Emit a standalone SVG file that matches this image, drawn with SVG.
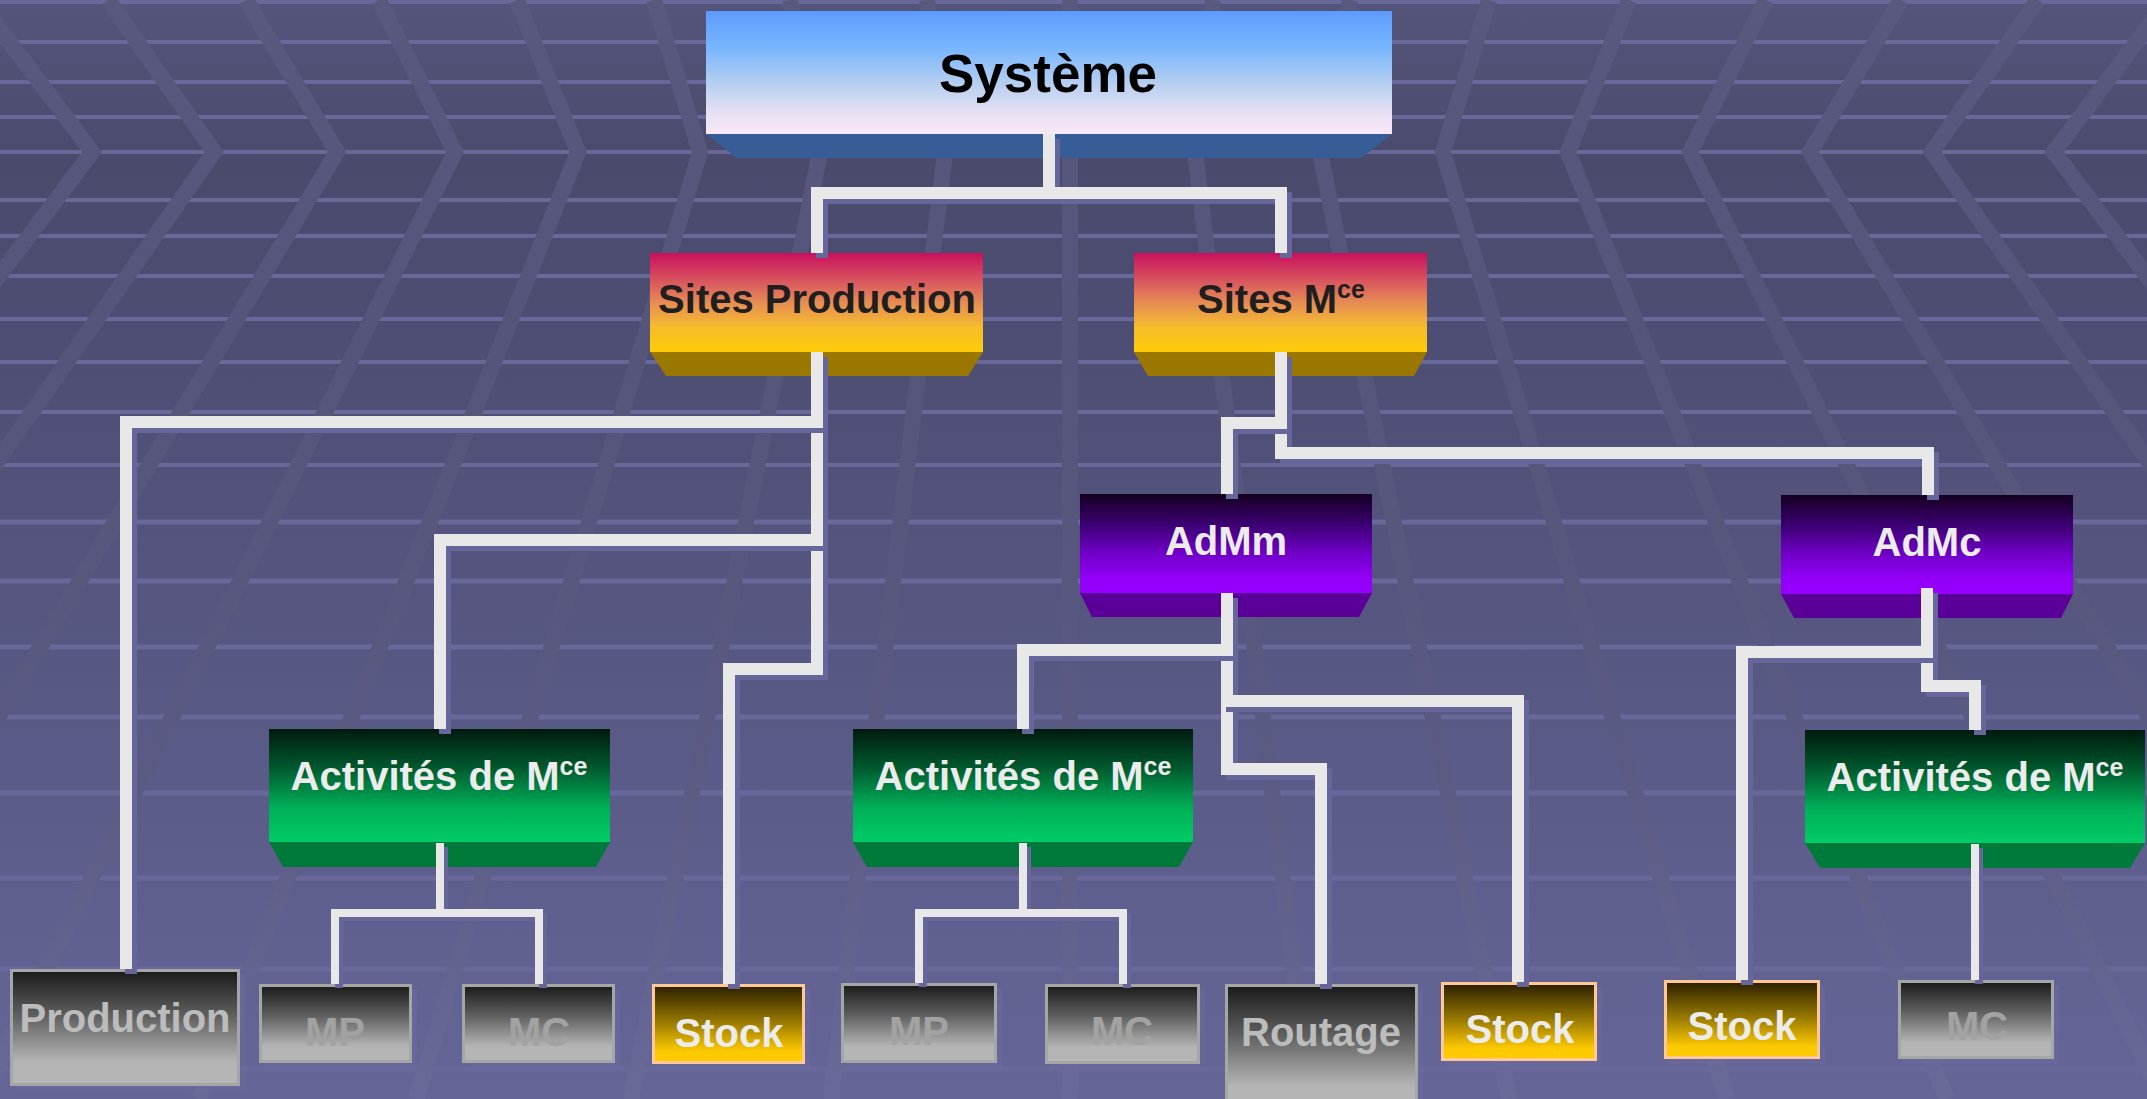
<svg xmlns="http://www.w3.org/2000/svg" width="2147" height="1099" viewBox="0 0 2147 1099">
  <defs>
    <linearGradient id="gBg" x1="0" y1="0" x2="0" y2="1099" gradientUnits="userSpaceOnUse">
      <stop offset="0" stop-color="#55557c"/>
      <stop offset="0.15" stop-color="#4a4a6d"/>
      <stop offset="0.4" stop-color="#505078"/>
      <stop offset="0.7" stop-color="#5b5b89"/>
      <stop offset="1" stop-color="#656598"/>
    </linearGradient>
    <linearGradient id="gBand" x1="0" y1="0" x2="0" y2="1099" gradientUnits="userSpaceOnUse">
      <stop offset="0" stop-color="#59597f"/>
      <stop offset="0.3" stop-color="#55557b"/>
      <stop offset="0.7" stop-color="#5a5a82"/>
      <stop offset="1" stop-color="#6a6a9a"/>
    </linearGradient>
    <linearGradient id="gSys" x1="0" y1="0" x2="0" y2="1">
      <stop offset="0" stop-color="#5c9bff"/>
      <stop offset="0.3" stop-color="#78b6fd"/>
      <stop offset="0.6" stop-color="#b8d0f0"/>
      <stop offset="0.85" stop-color="#eae2f4"/>
      <stop offset="1" stop-color="#f8e8f6"/>
    </linearGradient>
    <linearGradient id="gSites" x1="0" y1="0" x2="0" y2="1">
      <stop offset="0" stop-color="#c8105f"/>
      <stop offset="0.3" stop-color="#da5a5e"/>
      <stop offset="0.5" stop-color="#e68c54"/>
      <stop offset="0.75" stop-color="#f6bc2c"/>
      <stop offset="1" stop-color="#ffcc06"/>
    </linearGradient>
    <linearGradient id="gPurple" x1="0" y1="0" x2="0" y2="1">
      <stop offset="0" stop-color="#140020"/>
      <stop offset="0.3" stop-color="#3a0070"/>
      <stop offset="0.6" stop-color="#7000c8"/>
      <stop offset="0.85" stop-color="#9300f8"/>
      <stop offset="1" stop-color="#9600ff"/>
    </linearGradient>
    <linearGradient id="gGreen" x1="0" y1="0" x2="0" y2="1">
      <stop offset="0" stop-color="#001a0e"/>
      <stop offset="0.35" stop-color="#005a2e"/>
      <stop offset="0.7" stop-color="#00b058"/>
      <stop offset="1" stop-color="#00cc66"/>
    </linearGradient>
    <linearGradient id="gGrey" x1="0" y1="0" x2="0" y2="1">
      <stop offset="0" stop-color="#1a1a1a"/>
      <stop offset="0.4" stop-color="#606060"/>
      <stop offset="0.8" stop-color="#b4b4b4"/>
      <stop offset="1" stop-color="#b6b6b6"/>
    </linearGradient>
    <linearGradient id="gStock" x1="0" y1="0" x2="0" y2="1">
      <stop offset="0" stop-color="#2a1f00"/>
      <stop offset="0.45" stop-color="#927400"/>
      <stop offset="0.85" stop-color="#fcc800"/>
      <stop offset="1" stop-color="#ffcc00"/>
    </linearGradient>
    <style>
      .hl { stroke: #68689a; fill: none; }
      .band { stroke: url(#gBand); stroke-width: 16; fill: none; stroke-linejoin: miter; }
      .t { font-family: "Liberation Sans", Arial, sans-serif; font-weight: bold; text-anchor: middle; }
      .dark { fill: #1f1f1f; }
      .light { fill: #ececec; }
      .greyt { fill: #a2a2a2; }
      .greyp { fill: #bcbcbc; }
      .grey { fill: url(#gGrey); stroke: #a6a6a6; stroke-width: 3; }
      .stock { fill: url(#gStock); stroke: #ffc896; stroke-width: 3; }
      .drop { fill: #6a6a9e; opacity: 0.55; }
      .sh { fill: none; stroke: #66669a; stroke-linejoin: miter; }
      .ln { fill: none; stroke: #e8e8e8; stroke-linejoin: miter; }
      .w12 { stroke-width: 12; }
      .w8 { stroke-width: 8; }
    </style>
  </defs>

  <!-- backdrop: gradient, horizontal rails and perspective chevrons -->
  <g id="backdrop">
    <rect x="0" y="0" width="2147" height="1099" fill="url(#gBg)"/>
    <g class="hl" stroke-width="4">
      <line x1="0" y1="2" x2="2147" y2="2"/>
      <line x1="0" y1="42" x2="2147" y2="42"/>
      <line x1="0" y1="82" x2="2147" y2="82"/>
      <line x1="0" y1="117" x2="2147" y2="117"/>
      <line x1="0" y1="152" x2="2147" y2="152"/>
      <line x1="0" y1="200" x2="2147" y2="200"/>
      <line x1="0" y1="236" x2="2147" y2="236"/>
      <line x1="0" y1="276" x2="2147" y2="276"/>
      <line x1="0" y1="319" x2="2147" y2="319"/>
      <line x1="0" y1="362" x2="2147" y2="362"/>
      <line x1="0" y1="412" x2="2147" y2="412"/>
      <line x1="0" y1="465" x2="2147" y2="465"/>
    </g>
    <g class="hl" stroke-width="5">
      <line x1="0" y1="522" x2="2147" y2="522"/>
      <line x1="0" y1="581" x2="2147" y2="581"/>
      <line x1="0" y1="647" x2="2147" y2="647"/>
      <line x1="0" y1="717" x2="2147" y2="717"/>
      <line x1="0" y1="793" x2="2147" y2="793"/>
      <line x1="0" y1="878" x2="2147" y2="878"/>
      <line x1="0" y1="969" x2="2147" y2="969"/>
      <line x1="0" y1="1069" x2="2147" y2="1069"/>
    </g>
    <g>
      <polyline class="band" points="-22,0 92,152 -618,1099"/>
      <polyline class="band" points="108,0 214,152 -449,1099"/>
      <polyline class="band" points="246,0 337,152 -231,1099"/>
      <polyline class="band" points="379,0 455,152 -19,1099"/>
      <polyline class="band" points="517,0 578,152 199,1099"/>
      <polyline class="band" points="654,0 700,152 416,1099"/>
      <polyline class="band" points="790,0 820,152 631,1099"/>
      <polyline class="band" points="927,0 945,152 831,1099"/>
      <polyline class="band" points="1070,0 1070,152 1070,1099"/>
      <polyline class="band" points="1213,0 1195,152 1309,1099"/>
      <polyline class="band" points="1350,0 1320,152 1509,1099"/>
      <polyline class="band" points="1489,0 1443,152 1727,1099"/>
      <polyline class="band" points="1629,0 1568,152 1947,1099"/>
      <polyline class="band" points="1766,0 1690,152 2164,1099"/>
      <polyline class="band" points="1901,0 1810,152 2378,1099"/>
      <polyline class="band" points="2038,0 1932,152 2595,1099"/>
      <polyline class="band" points="2168,0 2054,152 2764,1099"/>
    </g>
  </g>

  <!-- upper levels: bevelled blocks -->
  <g id="systeme">
    <polygon points="706,134 1392,134 1361,158 737,158" fill="#365d96"/>
    <rect x="706" y="11" width="686" height="123" fill="url(#gSys)"/>
    <text class="t" x="1048" y="92" font-size="53" fill="#000">Système</text>
  </g>

  <g id="sites-production">
    <polygon points="650,352 983,352 968,376 666,376" fill="#9a7800"/>
    <rect x="650" y="253" width="333" height="99" fill="url(#gSites)"/>
    <text class="t dark" x="817" y="313" font-size="40">Sites Production</text>
  </g>

  <g id="sites-mce">
    <polygon points="1134,352 1427,352 1414,376 1148,376" fill="#9a7800"/>
    <rect x="1134" y="253" width="293" height="99" fill="url(#gSites)"/>
    <text class="t dark" x="1281" y="313" font-size="40">Sites M<tspan font-size="25" dy="-15">ce</tspan></text>
  </g>

  <g id="admm">
    <polygon points="1080,593 1372,593 1359,617 1092,617" fill="#5a0099"/>
    <rect x="1080" y="494" width="292" height="99" fill="url(#gPurple)"/>
    <text class="t light" x="1226" y="555" font-size="40">AdMm</text>
  </g>

  <g id="admc">
    <polygon points="1781,594 2073,594 2061,618 1794,618" fill="#5a0099"/>
    <rect x="1781" y="495" width="292" height="99" fill="url(#gPurple)"/>
    <text class="t light" x="1927" y="556" font-size="40">AdMc</text>
  </g>

  <g id="activites-1">
    <polygon points="269,842 610,842 596,867 283,867" fill="#007a3a"/>
    <rect x="269" y="729" width="341" height="113" fill="url(#gGreen)"/>
    <text class="t light" x="439" y="790" font-size="40">Activités de M<tspan font-size="25" dy="-15">ce</tspan></text>
  </g>

  <g id="activites-2">
    <polygon points="853,842 1193,842 1179,867 867,867" fill="#007a3a"/>
    <rect x="853" y="729" width="340" height="113" fill="url(#gGreen)"/>
    <text class="t light" x="1023" y="790" font-size="40">Activités de M<tspan font-size="25" dy="-15">ce</tspan></text>
  </g>

  <g id="activites-3">
    <polygon points="1805,843 2145,843 2130,868 1820,868" fill="#007a3a"/>
    <rect x="1805" y="730" width="340" height="113" fill="url(#gGreen)"/>
    <text class="t light" x="1975" y="791" font-size="40">Activités de M<tspan font-size="25" dy="-15">ce</tspan></text>
  </g>

  <!-- leaves: framed boxes -->
  <g id="production">
    <rect class="drop" x="15" y="974" width="230" height="117"/>
    <rect class="grey" x="11.5" y="970.5" width="227" height="114"/>
    <text class="t greyp" x="125" y="1032" font-size="40">Production</text>
  </g>
  <g id="mp-1">
    <rect class="drop" x="264" y="989" width="153" height="79"/>
    <rect class="grey" x="260.5" y="985.5" width="150" height="76"/>
    <text class="t greyt" x="335" y="1046" font-size="40">MP</text>
  </g>
  <g id="mc-1">
    <rect class="drop" x="467" y="989" width="153" height="79"/>
    <rect class="grey" x="463.5" y="985.5" width="150" height="76"/>
    <text class="t greyt" x="539" y="1046" font-size="40">MC</text>
  </g>
  <g id="stock-1">
    <rect class="drop" x="657" y="989" width="153" height="80"/>
    <rect class="stock" x="653.5" y="985.5" width="150" height="77"/>
    <text class="t light" x="729" y="1047" font-size="40">Stock</text>
  </g>
  <g id="mp-2">
    <rect class="drop" x="846" y="988" width="156" height="80"/>
    <rect class="grey" x="842.5" y="984.5" width="153" height="77"/>
    <text class="t greyt" x="919" y="1045" font-size="40">MP</text>
  </g>
  <g id="mc-2">
    <rect class="drop" x="1050" y="989" width="155" height="80"/>
    <rect class="grey" x="1046.5" y="985.5" width="152" height="77"/>
    <text class="t greyt" x="1122" y="1045" font-size="40">MC</text>
  </g>
  <g id="routage">
    <rect class="drop" x="1230" y="989" width="193" height="128"/>
    <rect class="grey" x="1226.5" y="985.5" width="190" height="125"/>
    <text class="t greyp" x="1321" y="1046" font-size="40">Routage</text>
  </g>
  <g id="stock-3">
    <rect class="drop" x="1446" y="987" width="156" height="79"/>
    <rect class="stock" x="1442.5" y="983.5" width="153" height="76"/>
    <text class="t light" x="1520" y="1043" font-size="40">Stock</text>
  </g>
  <g id="stock-4">
    <rect class="drop" x="1669" y="985" width="156" height="79"/>
    <rect class="stock" x="1665.5" y="981.5" width="153" height="76"/>
    <text class="t light" x="1742" y="1040" font-size="40">Stock</text>
  </g>
  <g id="mc-3">
    <rect class="drop" x="1903" y="985" width="156" height="79"/>
    <rect class="grey" x="1899.5" y="981.5" width="153" height="76"/>
    <text class="t greyt" x="1977" y="1040" font-size="40">MC</text>
  </g>

  <!-- elbow connectors: shadow underneath, white line on top; later ones overlay earlier ones -->
  <g id="connectors">
    <g>
      <path class="sh w12" transform="translate(5,5)" d="M1049 134 V193 H817 V253"/>
      <path class="ln w12" d="M1049 134 V193 H817 V253"/>
      <path class="sh w12" transform="translate(5,5)" d="M1049 134 V193 H1281 V253"/>
      <path class="ln w12" d="M1049 134 V193 H1281 V253"/>
    </g>
    <g>
      <path class="sh w12" transform="translate(5,5)" d="M817 352 V669 H729 V984"/>
      <path class="ln w12" d="M817 352 V669 H729 V984"/>
      <path class="sh w12" transform="translate(5,5)" d="M817 352 V540 H440 V729"/>
      <path class="ln w12" d="M817 352 V540 H440 V729"/>
      <path class="sh w12" transform="translate(5,5)" d="M817 352 V422 H126 V969"/>
      <path class="ln w12" d="M817 352 V422 H126 V969"/>
    </g>
    <g>
      <path class="sh w12" transform="translate(5,5)" d="M1281 352 V453 H1928 V495"/>
      <path class="ln w12" d="M1281 352 V453 H1928 V495"/>
      <path class="sh w12" transform="translate(5,5)" d="M1281 352 V423 H1227 V494"/>
      <path class="ln w12" d="M1281 352 V423 H1227 V494"/>
    </g>
    <g>
      <path class="sh w12" transform="translate(5,5)" d="M1227 593 V769 H1321 V984"/>
      <path class="ln w12" d="M1227 593 V769 H1321 V984"/>
      <path class="sh w12" transform="translate(5,5)" d="M1227 593 V701 H1518 V982"/>
      <path class="ln w12" d="M1227 593 V701 H1518 V982"/>
      <path class="sh w12" transform="translate(5,5)" d="M1227 593 V650 H1023 V729"/>
      <path class="ln w12" d="M1227 593 V650 H1023 V729"/>
    </g>
    <g>
      <path class="sh w12" transform="translate(5,5)" d="M1927 588 V686 H1975 V730"/>
      <path class="ln w12" d="M1927 588 V686 H1975 V730"/>
      <path class="sh w12" transform="translate(5,5)" d="M1927 588 V652 H1742 V980"/>
      <path class="ln w12" d="M1927 588 V652 H1742 V980"/>
    </g>
    <g>
      <path class="sh w8" transform="translate(4,4)" d="M440 843 V913 H335 V984"/>
      <path class="sh w8" transform="translate(4,4)" d="M440 843 V913 H539 V984"/>
      <path class="ln w8" d="M440 843 V913 H335 V984"/>
      <path class="ln w8" d="M440 843 V913 H539 V984"/>
    </g>
    <g>
      <path class="sh w8" transform="translate(4,4)" d="M1023 843 V913 H919 V983"/>
      <path class="sh w8" transform="translate(4,4)" d="M1023 843 V913 H1123 V984"/>
      <path class="ln w8" d="M1023 843 V913 H919 V983"/>
      <path class="ln w8" d="M1023 843 V913 H1123 V984"/>
    </g>
    <g>
      <path class="sh w8" transform="translate(4,4)" d="M1975 844 V980"/>
      <path class="ln w8" d="M1975 844 V980"/>
    </g>
  </g>
</svg>
